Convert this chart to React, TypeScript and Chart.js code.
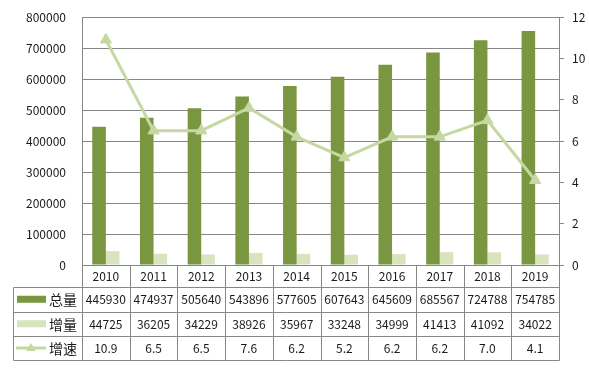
import React, { useEffect, useRef } from "react";
import { Chart, registerables } from "chart.js";

Chart.register(...registerables);

const years = ["2010", "2011", "2012", "2013", "2014", "2015", "2016", "2017", "2018", "2019"];
const totalValues = [445930, 474937, 505640, 543896, 577605, 607643, 645609, 685567, 724788, 754785];
const increaseValues = [44725, 36205, 34229, 38926, 35967, 33248, 34999, 41413, 41092, 34022];
const growthRates = [10.9, 6.5, 6.5, 7.6, 6.2, 5.2, 6.2, 6.2, 7.0, 4.1];
const seriesNames = ["总量", "增量", "增速"];

const DARK = "#7A9640";
const LIGHT = "#D7E4BD";
const LINE = "#C6D8A2";
const GRID = "#878787";
const TEXT = "#1a1a1a";
const FONT = "'Noto Sans CJK SC', 'Noto Sans', sans-serif";

const tablePlugin = {
  id: "dataTable",
  afterDraw(chart: any) {
    const { ctx, chartArea, scales } = chart;
    const xs = scales.x;
    const left = chartArea.left;
    const right = chartArea.right;
    const top = chartArea.bottom;
    const tableLeft = 13;
    const rows = [top, 287, 311.5, 336, 360];
    const n = years.length;
    const centers = years.map((_, i) => xs.getPixelForValue(i));
    const step = (right - left) / n;
    ctx.save();
    ctx.strokeStyle = GRID;
    ctx.lineWidth = 1;
    const line = (x1: number, y1: number, x2: number, y2: number) => {
      ctx.beginPath();
      ctx.moveTo(Math.round(x1) + 0.5, Math.round(y1) + 0.5);
      ctx.lineTo(Math.round(x2) + 0.5, Math.round(y2) + 0.5);
      ctx.stroke();
    };
    for (let r = 1; r < rows.length; r++) line(tableLeft, rows[r], right, rows[r]);
    line(tableLeft, rows[1], tableLeft, rows[4]);
    for (let i = 0; i <= n; i++) {
      const x = left + i * step;
      line(x, rows[0], x, rows[4]);
    }
    ctx.fillStyle = TEXT;
    ctx.textAlign = "center";
    ctx.textBaseline = "middle";
    ctx.font = `12px ${FONT}`;
    const rowData = [years, totalValues.map(String), increaseValues.map(String), growthRates.map((v) => v.toFixed(1))];
    rowData.forEach((vals, r) => {
      const cy = (rows[r] + rows[r + 1]) / 2 + 0.5;
      vals.forEach((v, i) => ctx.fillText(v, centers[i], cy));
    });
    for (let r = 1; r <= 3; r++) {
      const cy = (rows[r] + rows[r + 1]) / 2;
      if (r === 1 || r === 2) {
        ctx.fillStyle = r === 1 ? DARK : LIGHT;
        ctx.fillRect(17, cy - 3.5, 29, 7);
      } else {
        ctx.strokeStyle = LINE;
        ctx.lineWidth = 3;
        ctx.beginPath();
        ctx.moveTo(16, cy);
        ctx.lineTo(46, cy);
        ctx.stroke();
        ctx.fillStyle = LINE;
        ctx.beginPath();
        ctx.moveTo(31, cy - 5);
        ctx.lineTo(36, cy + 3);
        ctx.lineTo(26, cy + 3);
        ctx.closePath();
        ctx.fill();
      }
      ctx.fillStyle = TEXT;
      ctx.textAlign = "left";
      ctx.font = `14px ${FONT}`;
      ctx.fillText(seriesNames[r - 1], 49, cy + 0.5);
    }
    ctx.restore();
  },
};

export default function App() {
  const ref = useRef<HTMLCanvasElement>(null);
  useEffect(() => {
    if (!ref.current) return;
    Chart.defaults.font.family = FONT;
    Chart.defaults.font.size = 12;
    Chart.defaults.color = TEXT;
    const chart = new Chart(ref.current, {
      type: "bar",
      data: {
        labels: years,
        datasets: [
          {
            type: "line",
            label: seriesNames[2],
            data: growthRates,
            yAxisID: "y1",
            borderColor: LINE,
            backgroundColor: LINE,
            borderWidth: 3,
            pointStyle: "triangle",
            pointRadius: 6.5,
            pointBackgroundColor: LINE,
            pointBorderColor: LINE,
            pointBorderWidth: 1,
            order: 0,
          } as any,
          {
            type: "bar",
            label: seriesNames[0],
            data: totalValues,
            yAxisID: "y",
            backgroundColor: DARK,
            categoryPercentage: 0.57,
            barPercentage: 1,
            order: 1,
          },
          {
            type: "bar",
            label: seriesNames[1],
            data: increaseValues,
            yAxisID: "y",
            backgroundColor: LIGHT,
            categoryPercentage: 0.57,
            barPercentage: 1,
            order: 1,
          },
        ],
      },
      options: {
        responsive: false,
        animation: false,
        devicePixelRatio: 1,
        layout: { padding: { left: 0, right: 0, top: 17, bottom: 106 } },
        plugins: { legend: { display: false }, tooltip: { enabled: false } },
        scales: {
          x: { display: false, offset: true },
          y: {
            position: "left",
            min: 0,
            max: 800000,
            ticks: {
              stepSize: 100000,
              padding: 16,
              color: TEXT,
              font: { size: 12 },
              callback: (v: any) => String(v),
            },
            grid: { color: GRID, drawTicks: false, lineWidth: 1 },
            border: { display: true, color: GRID },
            afterFit: (s: any) => {
              s.width = 82;
              s.paddingTop = 0;
              s.paddingBottom = 0;
            },
          },
          y1: {
            position: "right",
            min: 0,
            max: 12,
            ticks: { stepSize: 2, padding: 8, color: TEXT, font: { size: 12 } },
            grid: { drawOnChartArea: false, drawTicks: true, tickLength: 5, color: GRID },
            border: { display: true, color: GRID },
            afterFit: (s: any) => {
              s.width = 30;
              s.paddingTop = 0;
              s.paddingBottom = 0;
            },
          },
        },
      },
      plugins: [tablePlugin],
    });
    return () => chart.destroy();
  }, []);
  return (
    <div style={{ position: "fixed", left: 0, top: 0, width: 589, height: 371, background: "#fff" }}>
      <canvas ref={ref} width={589} height={371} />
    </div>
  );
}
